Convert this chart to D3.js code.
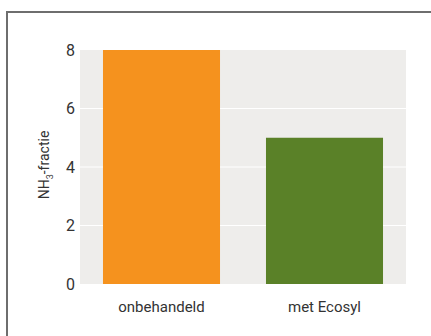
<!DOCTYPE html>
<html>
<head>
<meta charset="utf-8">
<script src="https://cdn.jsdelivr.net/npm/d3@7"></script>
<style>
  body { margin: 0; background: #fff; }
  svg text { font-family: "Roboto", "Liberation Sans", sans-serif; fill: #333; }
</style>
</head>
<body>
<svg width="431" height="336"></svg>
<script>
let categories = ["onbehandeld", "met Ecosyl"];
let values = [8, 5];
let colors = ["#f5921e", "#5a8128"];
let yTicks = [0, 2, 4, 6, 8];

let margin = {top: 50, right: 25, bottom: 52, left: 80};
let width = 431 - margin.left - margin.right;
let height = 336 - margin.top - margin.bottom;

var svg = d3.select("svg");

// outer frame
svg.append("rect")
   .attr("x", 7).attr("y", 12)
   .attr("width", 440).attr("height", 340)
   .attr("fill", "none")
   .attr("stroke", "#6e6e6e")
   .attr("stroke-width", 2);

var g = svg.append("g").attr("transform", "translate(" + margin.left + "," + margin.top + ")");

var x = d3.scaleBand()
          .domain(categories)
          .range([0, width])
          .paddingInner(0.282)
          .paddingOuter(0.141);

var y = d3.scaleLinear()
          .domain([0, 8])
          .range([height, 0]);

// plot background
g.append("rect")
 .attr("width", width).attr("height", height)
 .attr("fill", "#eeedeb");

// grid lines
g.selectAll("line.grid")
 .data(yTicks.filter(d => d > 0 && d < 8))
 .enter().append("line")
 .attr("class", "grid")
 .attr("x1", 0).attr("x2", width)
 .attr("y1", d => y(d)).attr("y2", d => y(d))
 .attr("stroke", "#fff")
 .attr("stroke-width", 1);

// bars
g.selectAll("rect.bar")
 .data(values)
 .enter().append("rect")
 .attr("class", "bar")
 .attr("x", (d, i) => x(categories[i]))
 .attr("y", d => y(d))
 .attr("width", x.bandwidth())
 .attr("height", d => height - y(d))
 .attr("fill", (d, i) => colors[i]);

// y axis
var yAxis = g.append("g")
 .call(d3.axisLeft(y).tickValues(yTicks).tickSize(0).tickPadding(5));
yAxis.select(".domain").remove();
yAxis.selectAll("text").attr("font-size", 16).style("fill", "#333");

// x axis
var xAxis = g.append("g")
 .attr("transform", "translate(0," + height + ")")
 .call(d3.axisBottom(x).tickSize(0).tickPadding(17));
xAxis.select(".domain").remove();
xAxis.selectAll("text").attr("font-size", 15).style("fill", "#333");

// y label with subscript
var ylab = svg.append("text")
 .attr("transform", "translate(49," + (margin.top + height / 2 - 2) + ") rotate(-90)")
 .attr("text-anchor", "middle")
 .attr("font-size", 14);
ylab.append("tspan").text("NH");
ylab.append("tspan").attr("font-size", 9).attr("dy", 4).text("3");
ylab.append("tspan").attr("dy", -4).text("-fractie");
</script>
</body>
</html>
